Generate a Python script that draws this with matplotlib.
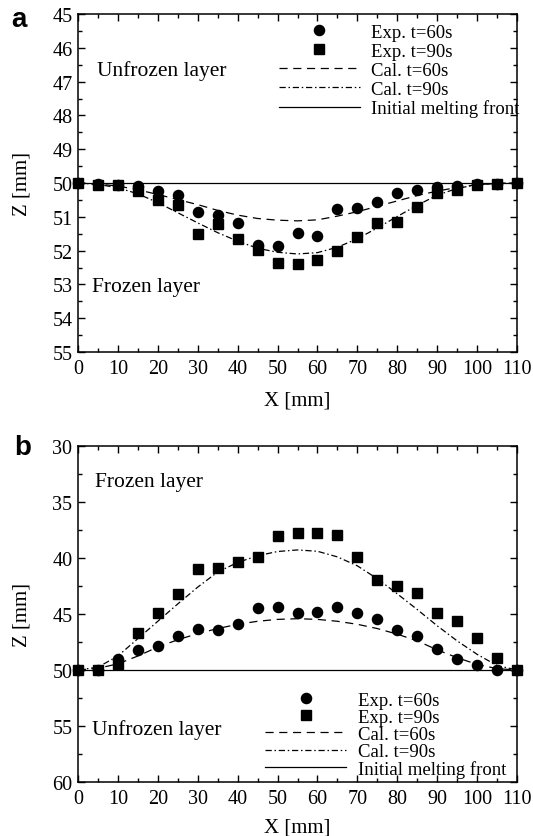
import matplotlib
matplotlib.use("Agg")
import matplotlib.pyplot as plt
from matplotlib.lines import Line2D
from matplotlib.ticker import MultipleLocator

plt.rcParams['font.family'] = ['Liberation Serif', 'DejaVu Serif']
plt.rcParams['mathtext.fontset'] = 'stix'

# ---------------- data ----------------
x_mm = [0, 5, 10, 15, 20, 25, 30, 35, 40, 45, 50, 55, 60, 65, 70, 75, 80, 85, 90, 95, 100, 105, 110]

# panel a
exp60_a = [50.0, 50.02, 50.05, 50.1, 50.23, 50.36, 50.87, 50.95, 51.19, 51.84, 51.87, 51.49,
           51.58, 50.77, 50.75, 50.56, 50.29, 50.22, 50.13, 50.1, 50.03, 50.03, 50.0]
exp90_a = [50.0, 50.05, 50.07, 50.23, 50.49, 50.64, 51.52, 51.21, 51.66, 51.97, 52.36, 52.41,
           52.28, 52.0, 51.59, 51.19, 51.15, 50.72, 50.29, 50.2, 50.05, 50.03, 50.0]
cal60_a = [50.0, 50.03, 50.09, 50.2, 50.34, 50.49, 50.64, 50.81, 50.95, 51.05, 51.1, 51.12,
           51.09, 50.98, 50.85, 50.69, 50.53, 50.37, 50.24, 50.13, 50.05, 50.01, 50.0]
cal90_a = [50.0, 50.04, 50.14, 50.32, 50.58, 50.88, 51.18, 51.47, 51.72, 51.93, 52.05, 52.1,
           52.06, 51.9, 51.65, 51.33, 50.99, 50.66, 50.36, 50.16, 50.05, 50.01, 50.0]

# panel b
exp60_b = [50.0, 50.0, 49.0, 48.2, 47.9, 46.95, 46.38, 46.44, 45.88, 44.44, 44.41, 44.91,
           44.82, 44.41, 44.94, 45.41, 46.44, 46.97, 48.1, 49.0, 49.55, 50.0, 50.0]
exp90_b = [50.0, 50.0, 49.45, 46.7, 44.94, 43.24, 41.0, 40.91, 40.35, 39.88, 38.0, 37.76,
           37.76, 37.94, 39.94, 41.97, 42.5, 43.15, 44.95, 45.6, 47.1, 48.97, 50.0]
cal60_b = [50.0, 49.85, 49.45, 48.75, 47.95, 47.3, 46.75, 46.3, 45.92, 45.65, 45.48, 45.42,
           45.48, 45.65, 45.92, 46.3, 46.8, 47.4, 48.2, 48.9, 49.5, 49.88, 50.0]
cal90_b = [50.0, 49.75, 48.75, 47.2, 45.65, 44.1, 42.6, 41.25, 40.4, 39.8, 39.42, 39.28,
           39.4, 39.9, 40.7, 41.85, 43.2, 44.6, 46.05, 47.4, 48.6, 49.6, 50.0]

front_x = [0, 110]
front_z = [50, 50]

labels = ["Exp. t=60s", "Exp. t=90s", "Cal. t=60s", "Cal. t=90s", "Initial melting front"]
xticks = [0, 10, 20, 30, 40, 50, 60, 70, 80, 90, 100, 110]
yticks_a = [45, 46, 47, 48, 49, 50, 51, 52, 53, 54, 55]
yticks_b = [30, 35, 40, 45, 50, 55, 60]

# ---------------- figure ----------------
W, H = 533, 837
fig = plt.figure(figsize=(W / 100, H / 100), dpi=100)
axa = fig.add_axes([78 / W, (H - 353) / H, 439 / W, 338 / H])
axb = fig.add_axes([78 / W, (H - 783) / H, 439 / W, 336 / H])

DASH = (6.5, 4.5)
DASHDOT = (5, 2.2, 1.2, 2.2)
LW = 0.9
MS_C = 7.3
MS_S = 6.5


def draw(ax, e60, e90, c60, c90, ylim, yticks, yminor):
    ax.plot(front_x, front_z, color='black', lw=LW, zorder=2)
    ax.plot(x_mm, c60, color='black', lw=LW, dashes=DASH, zorder=2)
    ax.plot(x_mm, c90, color='black', lw=LW, dashes=DASHDOT, zorder=2)
    ax.plot(x_mm, e90, ls='none', marker='s', ms=MS_S, color='black', zorder=3, clip_on=False)
    ax.plot(x_mm, e60, ls='none', marker='o', ms=MS_C, color='black', zorder=4, clip_on=False)
    ax.set_xlim(0, 110)
    ax.set_ylim(*ylim)
    ax.set_xticks(xticks)
    ax.set_yticks(yticks)
    ax.xaxis.set_minor_locator(MultipleLocator(5))
    ax.yaxis.set_minor_locator(MultipleLocator(yminor))
    ax.tick_params(which='both', direction='in', top=True, right=True, labelsize=14.5,
                   width=1.0, color='black')
    ax.tick_params(which='major', length=5)
    ax.tick_params(which='minor', length=2.8)
    ax.tick_params(axis='y', pad=4)
    ax.tick_params(axis='x', pad=5)
    for s in ax.spines.values():
        s.set_linewidth(1.1)
    ax.set_xlabel("X [mm]", fontsize=15)
    ax.set_ylabel("Z [mm]", fontsize=15)
    ax.yaxis.set_label_coords(-0.105, 0.5)


draw(axa, exp60_a, exp90_a, cal60_a, cal90_a, (55, 45), yticks_a, 0.5)
draw(axb, exp60_b, exp90_b, cal60_b, cal90_b, (60, 30), yticks_b, 2.5)
axa.xaxis.set_label_coords(0.5, -0.115)
axb.xaxis.set_label_coords(0.5, -0.105)


def handles():
    return [
        Line2D([], [], ls='none', marker='o', ms=MS_C, color='black'),
        Line2D([], [], ls='none', marker='s', ms=MS_S, color='black'),
        Line2D([], [], color='black', lw=LW, dashes=DASH),
        Line2D([], [], color='black', lw=LW, dashes=DASHDOT),
        Line2D([], [], color='black', lw=LW),
    ]


axa.legend(handles(), labels, loc='upper right', bbox_to_anchor=(1.005, 0.972),
           frameon=False, fontsize=13.5, handlelength=4.3, handletextpad=0.6,
           labelspacing=0.1, borderpad=0, borderaxespad=0, numpoints=1)
axb.legend(handles(), labels, loc='lower right', bbox_to_anchor=(0.976, 0.012),
           frameon=False, fontsize=13.5, handlelength=4.3, handletextpad=0.65,
           labelspacing=0.0, borderpad=0, borderaxespad=0, numpoints=1)

# region labels
axa.text(4.8, 46.66, "Unfrozen layer", fontsize=15.5, va='center', ha='left')
axa.text(3.5, 53.07, "Frozen layer", fontsize=15.5, va='center', ha='left')
axb.text(4.3, 33.2, "Frozen layer", fontsize=15.5, va='center', ha='left')
axb.text(3.5, 55.3, "Unfrozen layer", fontsize=15.5, va='center', ha='left')

# panel letters
fig.text(19 / W, 1 - 20 / H, "a", fontsize=20, fontweight='bold',
         family='Liberation Sans', ha='center', va='center')
fig.text(23 / W, 1 - 448 / H, "b", fontsize=20, fontweight='bold',
         family='Liberation Sans', ha='center', va='center')

fig.savefig("out.png", dpi=100)
